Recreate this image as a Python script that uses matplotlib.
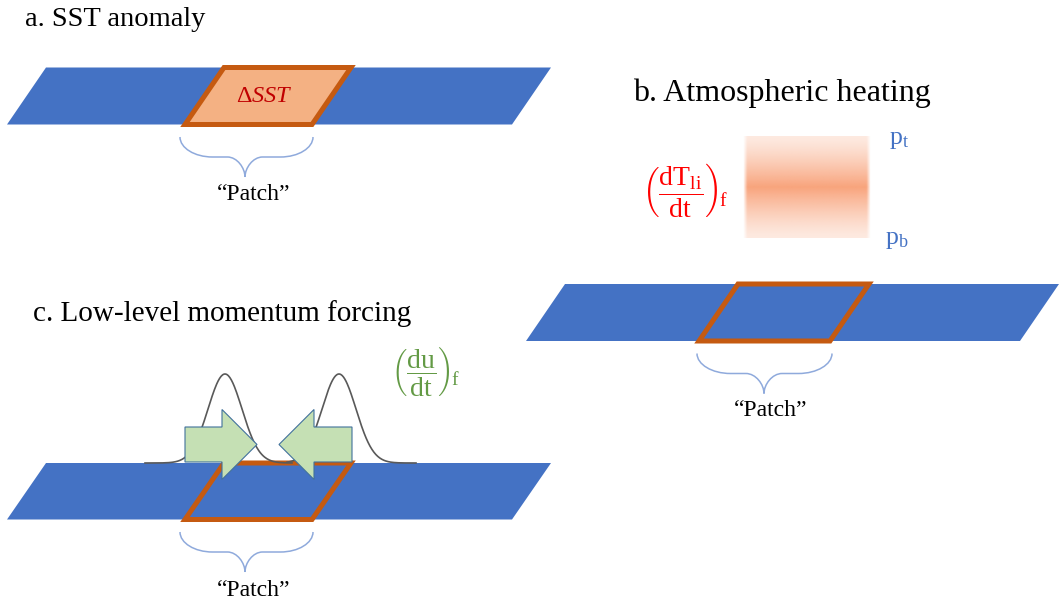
import numpy as np
import matplotlib.pyplot as plt
from matplotlib.patches import Polygon, PathPatch
from matplotlib.path import Path

plt.rcParams['font.family'] = ['Liberation Serif', 'DejaVu Serif']
plt.rcParams['mathtext.fontset'] = 'custom'
plt.rcParams['mathtext.rm'] = 'Liberation Serif'
plt.rcParams['mathtext.it'] = 'Liberation Serif:italic'

# panel titles
titles = ['a. SST anomaly', 'b. Atmospheric heating', 'c. Low-level momentum forcing']
title_x = [25, 633, 33]
title_y = [26, 101, 321]
title_size = [20.5, 23, 21]

# ocean strips (bottom-left x, bottom-right x, top y, bottom y)
strip_x0 = [7, 526, 7]
strip_x1 = [512, 1020, 512]
strip_top = [67.5, 284, 463]
strip_bot = [124.5, 341, 519.5]
skew = 39

# patch outline on each strip
patch_x0 = [185, 699, 185]
patch_x1 = [312, 830, 312]
patch_filled = [True, False, False]

# braces and "Patch" labels
brace_x0 = [180, 697, 180]
brace_x1 = [313, 832, 313]
brace_tip = [245, 764, 245]
brace_top = [137, 353.5, 532]
brace_bot = [177, 393.5, 572]
label_x = [254, 771, 254]
label_y = [195, 411, 590]

# momentum forcing profiles (panel c)
gauss_mu = [225, 339]
gauss_sigma = 17
gauss_amp = 89
gauss_range = [(145, 292), (287, 416)]
gauss_base = 463

# convergence arrows (panel c)
arrow_tail = [185, 352]
arrow_tip = [257, 279]
arrow_y = 444.5
arrow_body = 17.5
arrow_head = 35
arrow_head_len = 35

# heating box (panel b)
heat_x = [743, 871]
heat_y = [136, 238]

blue = '#4472C4'
orange = '#C55A11'


def brace(ax, x0, x1, xt, y0, y1):
    k = 0.55
    ym = y0 + 0.5 * (y1 - y0)
    r1 = 0.5 * (xt - x0)
    r2 = 0.27 * (xt - x0)
    verts = [(x0, y0), (x0, y0 + k * (ym - y0)), (x0 + r1 * (1 - k), ym), (x0 + r1, ym),
             (xt - r2, ym),
             (xt - r2 * (1 - k), ym), (xt, ym + k * (y1 - ym)), (xt, y1),
             (xt, ym + k * (y1 - ym)), (xt + r2 * (1 - k), ym), (xt + r2, ym),
             (x1 - r1, ym),
             (x1 - r1 * (1 - k), ym), (x1, y0 + k * (ym - y0)), (x1, y0)]
    codes = [Path.MOVETO, Path.CURVE4, Path.CURVE4, Path.CURVE4, Path.LINETO,
             Path.CURVE4, Path.CURVE4, Path.CURVE4, Path.CURVE4, Path.CURVE4, Path.CURVE4,
             Path.LINETO, Path.CURVE4, Path.CURVE4, Path.CURVE4]
    ax.add_patch(PathPatch(Path(verts, codes), fill=False, ec='#8FAADC', lw=1.1, zorder=2))


fig = plt.figure(figsize=(10.63, 6.06), dpi=100)
ax = fig.add_axes([0, 0, 1, 1])
ax.set_xlim(0, 1063)
ax.set_ylim(606, 0)
ax.axis('off')

for i in range(3):
    ax.text(title_x[i], title_y[i], titles[i], fontsize=title_size[i], va='baseline', ha='left')
    t, b = strip_top[i], strip_bot[i]
    ax.add_patch(Polygon([(strip_x0[i], b), (strip_x1[i], b), (strip_x1[i] + skew, t),
                          (strip_x0[i] + skew, t)], closed=True, fc=blue, ec='none', zorder=1))
    ax.add_patch(Polygon([(patch_x0[i], b), (patch_x1[i], b), (patch_x1[i] + skew, t),
                          (patch_x0[i] + skew, t)], closed=True,
                         fc='#F4B183' if patch_filled[i] else 'none', ec=orange, lw=3.6,
                         joinstyle='miter', zorder=2))
    brace(ax, brace_x0[i], brace_x1[i], brace_tip[i], brace_top[i], brace_bot[i])
    ax.text(label_x[i], label_y[i], '\u201cPatch\u201d', fontsize=17, ha='center', va='center')

# panel a
ax.text(264, 97, r'$\Delta SST$', color='#C00000', fontsize=17.5, ha='center', va='center', zorder=3)

# panel b: heating box with vertical gradient
ny, nx = 120, 150
ty = np.linspace(0, 1, ny)[:, None]
tx = np.linspace(0, 1, nx)[None, :]
alpha = 0.22 + 0.72 * (1 - np.abs(2 * ty - 1)) ** 1.3
edge = np.clip(np.minimum(tx, 1 - tx) * (heat_x[1] - heat_x[0]) / 4.0, 0, 1)
img = np.zeros((ny, nx, 4))
img[..., 0] = 248 / 255
img[..., 1] = 158 / 255
img[..., 2] = 116 / 255
img[..., 3] = alpha * edge
ax.imshow(img, extent=[heat_x[0], heat_x[1], heat_y[1], heat_y[0]], aspect='auto',
          interpolation='bilinear', zorder=2)
ax.set_xlim(0, 1063)
ax.set_ylim(606, 0)
ax.text(889, 140, r'$\mathrm{p_t}$', color=blue, fontsize=18.5, ha='left', va='center')
ax.text(885, 240, r'$\mathrm{p_b}$', color=blue, fontsize=18.5, ha='left', va='center')
ax.text(642, 190, r'$\left(\dfrac{\mathrm{dT_{li}}}{\mathrm{dt}}\right)_{\!\mathrm{f}}$',
        color='#FF0000', fontsize=20, ha='left', va='center')

# panel c: forcing profiles and arrows
for mu, (xa, xb) in zip(gauss_mu, gauss_range):
    xs = np.linspace(xa, xb, 200)
    ax.plot(xs, gauss_base - gauss_amp * np.exp(-(xs - mu) ** 2 / (2 * gauss_sigma ** 2)),
            color='#595959', lw=1.2, zorder=3)

for tail, tip in zip(arrow_tail, arrow_tip):
    d = np.sign(tip - tail)
    hb = tip - d * arrow_head_len
    y = arrow_y
    ax.add_patch(Polygon([(tail, y - arrow_body), (hb, y - arrow_body), (hb, y - arrow_head),
                          (tip, y), (hb, y + arrow_head), (hb, y + arrow_body),
                          (tail, y + arrow_body)], closed=True, fc='#C5E0B4', ec='#41719C',
                         lw=0.8, zorder=4))

ax.text(391, 372, r'$\left(\dfrac{\mathrm{du}}{\mathrm{dt}}\right)_{\!\mathrm{f}}$',
        color='#639A45', fontsize=20, ha='left', va='center')

fig.savefig('out.png', dpi=100)
